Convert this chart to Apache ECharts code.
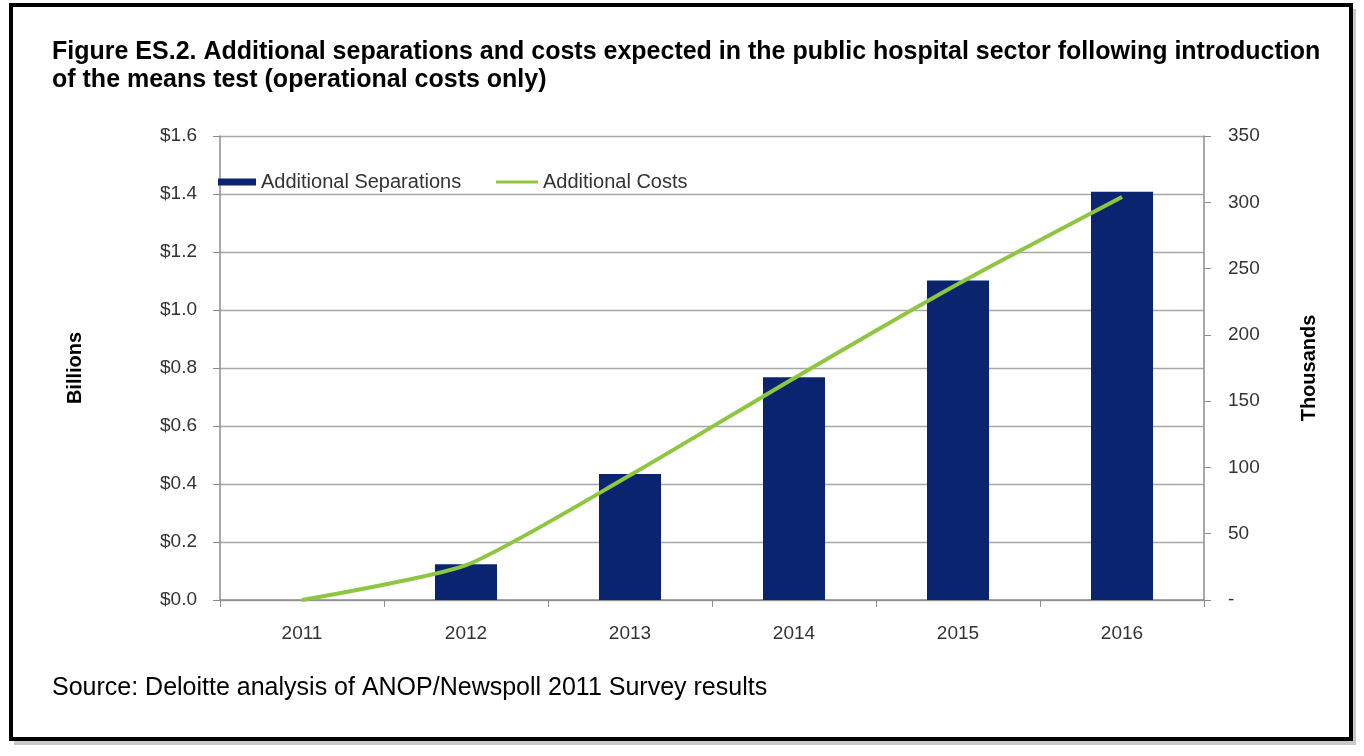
<!DOCTYPE html>
<html>
<head>
<meta charset="utf-8">
<script src="https://cdn.jsdelivr.net/npm/echarts@6/dist/echarts.min.js"></script>
<style>
html,body{margin:0;padding:0;background:#fff;}
#chart{width:1364px;height:756px;}
</style>
</head>
<body>
<div id="chart"></div>
<script>
var years = ['2011', '2012', '2013', '2014', '2015', '2016'];
// Additional Separations (thousands, right axis)
var separations = [0, 27, 95, 168, 241, 308];
// Additional Costs ($ billions, left axis)
var costs = [0, 0.12, 0.43, 0.765, 1.09, 1.39];
var leftTicks = { min: 0, max: 1.6, interval: 0.2 };
var rightTicks = { min: 0, max: 350, interval: 50 };

var FONT = '"Liberation Sans", Arial, sans-serif';
var chart = echarts.init(document.getElementById('chart'), null, { renderer: 'canvas' });

chart.setOption({
  backgroundColor: '#ffffff',
  animation: false,
  graphic: [
    { type: 'rect', shape: { x: 14, y: 9, width: 1342, height: 736 }, style: { fill: '#c8c8c8' }, z: -10 },
    { type: 'rect', shape: { x: 11, y: 5, width: 1340, height: 734 }, style: { fill: '#ffffff', stroke: '#000000', lineWidth: 4 }, z: -9 }
  ],
  title: [
    {
      text: 'Figure ES.2. Additional separations and costs expected in the public hospital sector following introduction\nof the means test (operational costs only)',
      left: 47, top: 33,
      textStyle: { fontFamily: FONT, fontSize: 25, fontWeight: 'bold', color: '#000', lineHeight: 28 }
    },
    {
      text: 'Source: Deloitte analysis of ANOP/Newspoll 2011 Survey results',
      left: 47, top: 671,
      textStyle: { fontFamily: FONT, fontSize: 25, fontWeight: 'normal', color: '#000' }
    }
  ],
  legend: [
    {
      data: [{ name: 'Additional Separations', icon: 'rect' }],
      left: 213, top: 167, itemWidth: 38, itemHeight: 7,
      textStyle: { fontFamily: FONT, fontSize: 20, color: '#333' }
    },
    {
      data: [{ name: 'Additional Costs', icon: 'rect' }],
      left: 491, top: 167, itemWidth: 42, itemHeight: 3,
      textStyle: { fontFamily: FONT, fontSize: 20, color: '#333' }
    }
  ],
  grid: { left: 220, right: 160, top: 136, bottom: 156, containLabel: false },
  xAxis: {
    type: 'category',
    data: years,
    boundaryGap: true,
    axisLine: { lineStyle: { color: '#8c8c8c', width: 1.5 } },
    axisTick: { show: true, alignWithLabel: false, length: 7, lineStyle: { color: '#8c8c8c' } },
    axisLabel: { fontFamily: FONT, fontSize: 19, color: '#333', margin: 24 }
  },
  yAxis: [
    {
      type: 'value',
      min: leftTicks.min, max: leftTicks.max, interval: leftTicks.interval,
      position: 'left',
      name: 'Billions', nameLocation: 'middle', nameRotate: 90, nameGap: 135,
      nameTextStyle: { fontFamily: FONT, fontSize: 20, fontWeight: 'bold', color: '#000' },
      axisLine: { show: true, lineStyle: { color: '#8c8c8c', width: 1.5 } },
      axisTick: { show: true, length: 7, lineStyle: { color: '#8c8c8c' } },
      splitLine: { show: true, lineStyle: { color: '#a6a6a6', width: 1.3 } },
      axisLabel: {
        fontFamily: FONT, fontSize: 19, color: '#333', margin: 23,
        formatter: function (v) { return '$' + v.toFixed(1); }
      }
    },
    {
      type: 'value',
      min: rightTicks.min, max: rightTicks.max, interval: rightTicks.interval,
      position: 'right',
      name: 'Thousands', nameLocation: 'middle', nameRotate: 90, nameGap: 95,
      nameTextStyle: { fontFamily: FONT, fontSize: 20, fontWeight: 'bold', color: '#000' },
      axisLine: { show: true, lineStyle: { color: '#8c8c8c', width: 1.5 } },
      axisTick: { show: true, length: 7, lineStyle: { color: '#8c8c8c' } },
      splitLine: { show: false },
      axisLabel: {
        fontFamily: FONT, fontSize: 19, color: '#333', margin: 24,
        formatter: function (v) { return v === 0 ? '-' : String(v); }
      }
    }
  ],
  series: [
    {
      name: 'Additional Separations',
      type: 'bar',
      yAxisIndex: 1,
      data: separations,
      barWidth: 62,
      itemStyle: { color: '#0b2470' },
      z: 2
    },
    {
      name: 'Additional Costs',
      type: 'line',
      yAxisIndex: 0,
      data: costs,
      smooth: 0.2,
      showSymbol: false,
      symbol: 'none',
      lineStyle: { color: '#8dc63f', width: 4 },
      itemStyle: { color: '#8dc63f' },
      z: 3
    }
  ]
});
</script>
</body>
</html>
